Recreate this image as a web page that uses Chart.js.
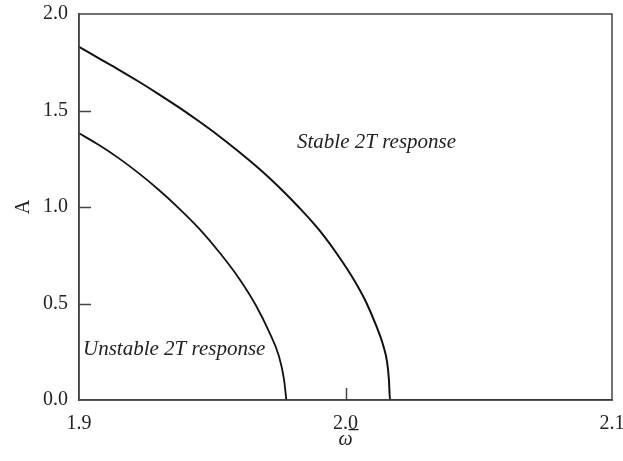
<!DOCTYPE html>
<html>
<head>
<meta charset="utf-8">
<script src="https://cdn.jsdelivr.net/npm/chart.js@4/dist/chart.umd.min.js"></script>
<style>
  html, body { margin: 0; padding: 0; background: #fff; }
  #wrap { width: 623px; height: 461px; }
</style>
</head>
<body>
<div id="wrap"><canvas id="c" width="623" height="461"></canvas></div>
<script>
// Outer boundary (stable 2T response above it)
const omegaOuter = [1.9, 1.9075, 1.915, 1.9225, 1.93, 1.9375, 1.945, 1.9525, 1.96, 1.9675, 1.975, 1.9824, 1.9901, 1.9976, 2.0032, 2.0077, 2.0114, 2.0141, 2.0156, 2.0163, 2.0167, 2.1];
const ampOuter   = [1.830, 1.770, 1.711, 1.649, 1.584, 1.516, 1.444, 1.368, 1.286, 1.199, 1.104, 1.000, 0.881, 0.741, 0.622, 0.508, 0.389, 0.285, 0.197, 0.104, 0.0, 0.0];
// Inner boundary (unstable 2T response below it)
const omegaInner = [1.9, 1.9075, 1.915, 1.9225, 1.93, 1.9375, 1.945, 1.9525, 1.96, 1.9663, 1.9713, 1.975, 1.9769, 1.9778];
const ampInner   = [1.382, 1.321, 1.252, 1.174, 1.088, 0.993, 0.889, 0.768, 0.631, 0.492, 0.354, 0.228, 0.109, 0.0];
// Axis ticks
const xTicks = [1.9, 2.0, 2.1];
const yTicks = [0.0, 0.5, 1.0, 1.5, 2.0];
// Region labels
const regionLabels = ['Stable 2T response', 'Unstable 2T response'];
const regionLabelOmega = [1.9818, 1.9015];
const regionLabelAmp = [1.332, 0.262];

const toPts = (xs, ys) => xs.map((x, i) => ({x: x, y: ys[i]}));
const SERIF = '"Liberation Serif", "Times New Roman", "DejaVu Serif", serif';

const decorPlugin = {
  id: 'decor',
  afterDraw(chart) {
    const {ctx, chartArea: a, scales: {x, y}} = chart;
    ctx.save();
    // frame
    ctx.strokeStyle = '#444';
    ctx.lineWidth = 1.5;
    ctx.strokeRect(a.left, a.top, a.right - a.left, a.bottom - a.top);
    // inward ticks
    ctx.beginPath();
    yTicks.forEach(v => {
      if (v === y.min || v === y.max) return;
      const py = Math.round(y.getPixelForValue(v)) + 0.5;
      ctx.moveTo(a.left, py); ctx.lineTo(a.left + 12, py);
    });
    xTicks.forEach(v => {
      if (Math.abs(v - x.min) < 1e-9 || Math.abs(v - x.max) < 1e-9) return;
      const px = Math.round(x.getPixelForValue(v)) + 0.5;
      ctx.moveTo(px, a.bottom); ctx.lineTo(px, a.bottom - 12);
    });
    ctx.stroke();
    // region labels
    ctx.fillStyle = '#222';
    ctx.font = 'italic 21px ' + SERIF;
    ctx.textAlign = 'left';
    ctx.textBaseline = 'middle';
    regionLabels.forEach((t, i) => {
      ctx.fillText(t, x.getPixelForValue(regionLabelOmega[i]), y.getPixelForValue(regionLabelAmp[i]));
    });
    ctx.restore();
  }
};

new Chart(document.getElementById('c'), {
  type: 'line',
  data: {
    datasets: [
      { data: toPts(omegaOuter, ampOuter), borderColor: '#111', borderWidth: 2, pointRadius: 0, cubicInterpolationMode: 'monotone', fill: false },
      { data: toPts(omegaInner, ampInner), borderColor: '#111', borderWidth: 1.8, pointRadius: 0, cubicInterpolationMode: 'monotone', fill: false }
    ]
  },
  options: {
    responsive: false,
    animation: false,
    layout: { padding: { left: 0, right: 11, top: 14, bottom: 0 } },
    plugins: { legend: { display: false }, tooltip: { enabled: false } },
    scales: {
      x: {
        type: 'linear', min: 1.9, max: 2.1,
        afterBuildTicks: s => { s.ticks = xTicks.map(v => ({value: v})); },
        afterFit: s => { s.height = 61; s.paddingLeft = 0; s.paddingRight = 0; },
        grid: { display: false, drawTicks: false },
        border: { display: true, color: '#444', width: 1.5 },
        ticks: { padding: 12, color: '#222', font: { family: SERIF, size: 20 }, maxRotation: 0, callback: v => v.toFixed(1) },
        title: { display: true, text: 'ω\u0305', color: '#222', font: { family: SERIF, size: 20, style: 'italic' }, padding: { top: 0, bottom: 9 } }
      },
      y: {
        type: 'linear', min: 0, max: 2.0,
        afterBuildTicks: s => { s.ticks = yTicks.map(v => ({value: v})); },
        afterFit: s => { s.width = 79; s.paddingTop = 0; s.paddingBottom = 0; },
        grid: { display: false, drawTicks: false },
        border: { display: true, color: '#444', width: 1.5 },
        ticks: { padding: 11, color: '#222', font: { family: SERIF, size: 20 }, callback: v => v.toFixed(1) },
        title: { display: true, text: 'A', color: '#222', font: { family: SERIF, size: 20 }, padding: { top: 12, bottom: 0 } }
      }
    }
  },
  plugins: [decorPlugin]
});
</script>
</body>
</html>
